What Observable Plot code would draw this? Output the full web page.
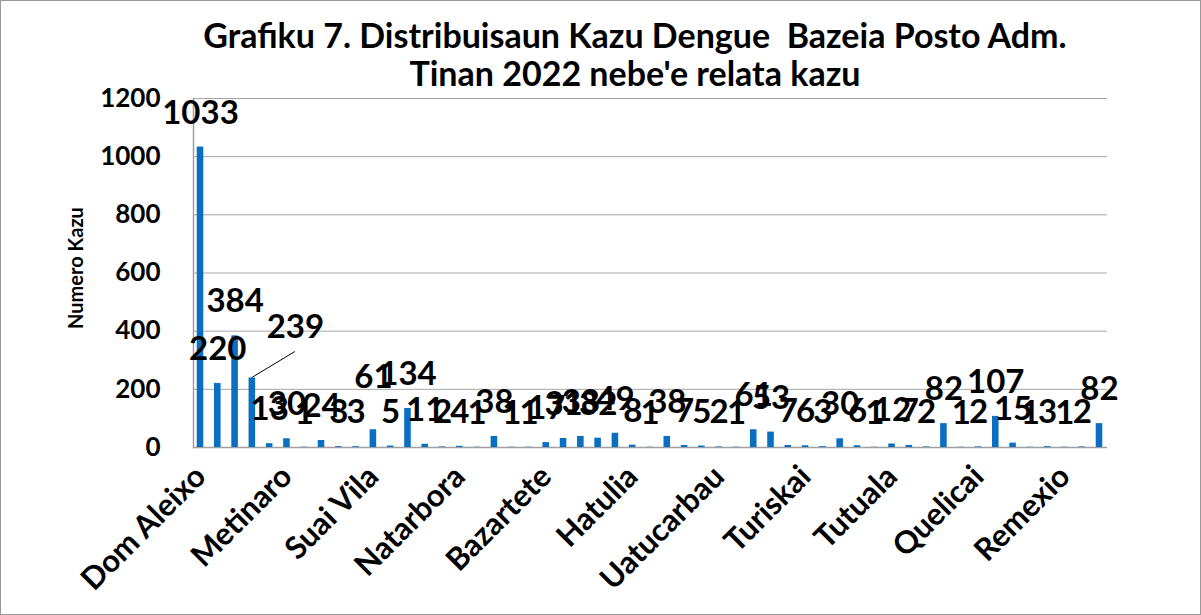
<!DOCTYPE html>
<html>
<head>
<meta charset="utf-8">
<script src="https://cdn.jsdelivr.net/npm/d3@7"></script>
<script src="https://cdn.jsdelivr.net/npm/@observablehq/plot@0.6"></script>
<style>
  body { margin: 0; background: #fff; }
  #wrap { position: relative; width: 1201px; height: 615px; overflow: hidden; background: #fff; font-family: Lato, sans-serif; }
  #title { position: absolute; left: 0; top: 16px; width: 1270px; text-align: center; font-weight: bold; font-size: 34px; line-height: 38px; white-space: pre; color: #000; }
  #chart { position: absolute; left: 0; top: 88px; }
  #border { position: absolute; inset: 0; border: 1px solid #999; box-sizing: border-box; pointer-events: none; }
</style>
</head>
<body>
<div id="wrap">
  <div id="title">Grafiku 7. Distribuisaun Kazu Dengue  Bazeia Posto Adm.
Tinan 2022 nebe'e relata kazu</div>
  <div id="chart"></div>
  <div id="border"></div>
</div>
<script>
const categories = [
  "Dom Aleixo", "Cristo Rei", "Nain Feto", "Vera Cruz", "Atauro",
  "Metinaro", "Fatululik", "Fatumean", "Fohorem", "Maukatar",
  "Suai Vila", "Tilomar", "Zumalai", "Manatuto Vila", "Laclo",
  "Natarbora", "Laleia", "Laclubar", "Soibada", "Liquiça Vila",
  "Bazartete", "Maubara", "Ermera Vila", "Atsabe", "Letefoho",
  "Hatulia", "Railaco", "Baucau Vila", "Baguia", "Laga",
  "Uatucarbau", "Uatulari", "Viqueque Vila", "Ossu", "Lacluta",
  "Turiskai", "Maubisse", "Hatubuilico", "Lospalos", "Iliomar",
  "Tutuala", "Lautem", "Luro", "Vemasse", "Venilale",
  "Quelicai", "Same", "Alas", "Fatuberliu", "Hatu-Udo",
  "Remexio", "Lequidoe", "Aileu Vila"
];
const cases = [
  1033, 220, 384, 239, 13,
  30, 1, 24, 3, 3,
  61, 5, 134, 11, 2,
  4, 1, 38, 1, 1,
  17, 31, 38, 32, 49,
  8, 1, 38, 7, 5,
  2, 1, 61, 53, 7,
  6, 3, 30, 6, 1,
  12, 7, 2, 82, 1,
  2, 107, 15, 1, 3,
  1, 2, 82
];
const yTicks = [0, 200, 400, 600, 800, 1000, 1200];
const shownLabels = ["Dom Aleixo", "Metinaro", "Suai Vila", "Natarbora", "Bazartete", "Hatulia", "Uatucarbau", "Turiskai", "Tutuala", "Quelicai", "Remexio"];
const yLabel = "Numero Kazu";

const data = categories.map((c, i) => ({c, v: cases[i], i}));
const leaderIdx = 3;   // label moved aside with a leader line
const raisedIdx = 10;  // label nudged upward

const chart = Plot.plot({
  width: 1201,
  height: 527,
  marginTop: 10,
  marginBottom: 168,
  marginLeft: 193,
  marginRight: 94,
  style: {fontFamily: "Lato, sans-serif", overflow: "visible", background: "transparent", color: "#000"},
  x: {domain: categories, padding: 0.62, range: [186, 1113], round: false},
  y: {domain: [0, 1200]},
  marks: [
    Plot.ruleY(yTicks.filter(t => t > 0), {stroke: "#a6a6a6", strokeWidth: 1}),
    Plot.ruleY([0], {stroke: "#a0a0a0", strokeWidth: 1.5}),
    Plot.frame({anchor: "left", stroke: "#a0a0a0", strokeWidth: 1.5}),
    Plot.barY(data, {x: "c", y: "v", fill: "#0a6fc2"}),
    Plot.axisY({ticks: yTicks, tickFormat: d => String(d), tickSize: 0, tickPadding: 33, fontSize: 26, fontWeight: "bold", label: null}),
    Plot.axisX({ticks: shownLabels, tickSize: 0, tickRotate: -45, tickPadding: 24, dx: 0, fontSize: 31, fontWeight: "bold", label: null}),
    Plot.text(data.filter(d => d.i !== leaderIdx && d.i !== raisedIdx), {x: "c", y: "v", text: d => String(d.v), dy: -34, fontSize: 33, fontWeight: "bold"}),
    Plot.text(data.filter(d => d.i === raisedIdx), {x: "c", y: "v", text: d => String(d.v), dy: -52, fontSize: 33, fontWeight: "bold"}),
    Plot.text(data.filter(d => d.i === leaderIdx), {x: "c", y: "v", text: d => String(d.v), dx: 43, dy: -51, fontSize: 33, fontWeight: "bold"}),
    Plot.text([yLabel], {frameAnchor: "left", text: d => d, rotate: -90, textAnchor: "middle", dx: -117, dy: -5, fontSize: 20, fontWeight: "bold"})
  ]
});

document.getElementById("chart").appendChild(chart);

// leader line for the moved label, positioned through the plot's scales
const xs = chart.scale("x"), ys = chart.scale("y");
const bx = xs.apply(categories[leaderIdx]) + xs.bandwidth / 2;
const by = ys.apply(cases[leaderIdx]);
d3.select(chart).append("line")
  .attr("x1", bx).attr("y1", by)
  .attr("x2", bx + 43).attr("y2", by - 26)
  .attr("stroke", "#000").attr("stroke-width", 1);
</script>
</body>
</html>
